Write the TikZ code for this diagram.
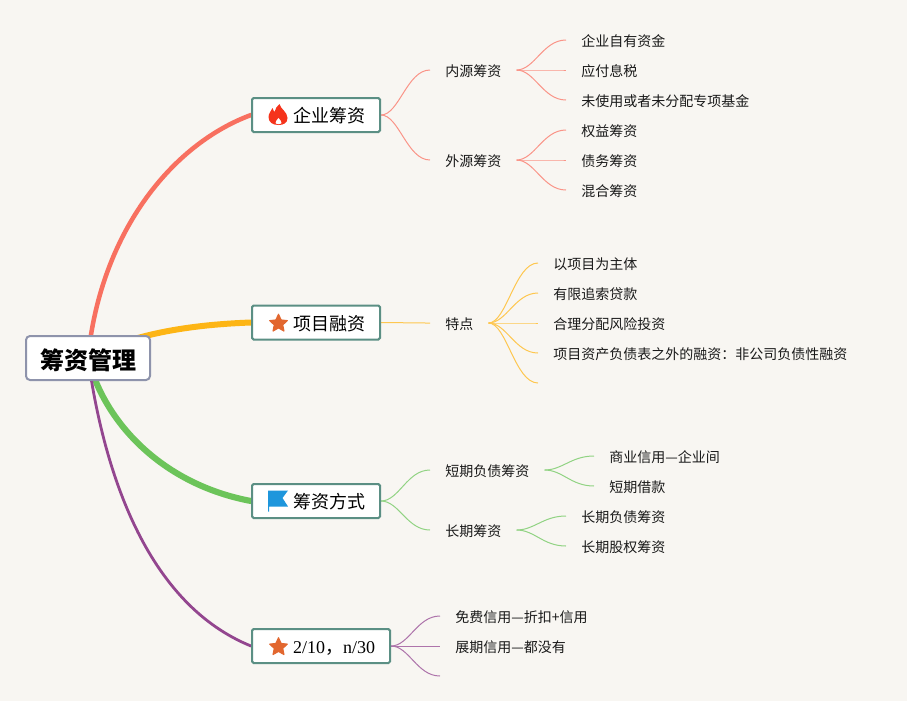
\documentclass[tikz,border=0pt]{standalone}
\usepackage{fontspec}
\setmainfont{Noto Sans CJK SC}
\newfontfamily\latinserif{Liberation Serif}
\usetikzlibrary{backgrounds,shapes.geometric,calc}
\definecolor{bgc}{HTML}{F8F6F2}
\definecolor{redb}{HTML}{F87060}
\definecolor{yelb}{HTML}{FDB515}
\definecolor{grnb}{HTML}{6CC45A}
\definecolor{purb}{HTML}{93468F}
\definecolor{teal1}{HTML}{5B8F84}
\definecolor{rootb}{HTML}{8E93AB}
\definecolor{staro}{HTML}{E2672F}
\definecolor{flagb}{HTML}{1E96DC}
\definecolor{flamer}{HTML}{F5331B}
\tikzset{
  x=0.75pt,y=-0.75pt,
  rootn/.style={draw=rootb,line width=1.5pt,fill=white,rounded corners=3pt,minimum width=93pt,minimum height=33pt,inner sep=0pt,text height=16.7pt,text depth=0pt,font=\fontsize{18pt}{20pt}\selectfont\bfseries},
  topicn/.style={draw=teal1,line width=1.5pt,fill=white,rounded corners=1.2pt,minimum height=25.5pt,inner ysep=0pt,inner xsep=11.25pt,text height=11.8pt,text depth=0pt,anchor=west,font=\fontsize{13.5pt}{16pt}\selectfont},
  subn/.style={anchor=west,inner xsep=11.25pt,inner ysep=0pt,text height=11.5pt,text depth=1.5pt,font=\fontsize{10.5pt}{13pt}\selectfont,text=black!90},
  branch/.style={line width=#1,line cap=round},
  thin1/.style={line width=0.75pt,draw=#1!75!white},
  icons/.style={star,star points=5,star point ratio=2.1,fill=staro,draw=staro,line width=0.8pt,line join=round,inner sep=0pt,minimum size=14pt},
}
\newcommand{\curvelink}[3]{\draw[thin1=#1] (#2) .. controls ($(#2)+(18,0)$) and ($(#3)+(-23,0)$) .. (#3);}
\begin{document}
\begin{tikzpicture}
\useasboundingbox (0,0) rectangle (907,701);
% root
\node[rootn] (root) at (88,358) {筹资管理};
% topics
\node[topicn] (t1) at (251,115) {\hspace*{19.5pt}企业筹资};
\node[topicn] (t2) at (251,322.5) {\hspace*{19.5pt}项目融资};
\node[topicn] (t3) at (251,501) {\hspace*{19.5pt}筹资方式};
\node[topicn] (t4) at (251,646) {\hspace*{19.5pt}{\latinserif 2/10}，{\latinserif n/30}};
% second level
\node[subn] (a1) at (430,70) {内源筹资};
\node[subn] (a2) at (430,160) {外源筹资};
\node[subn] (b1) at (430,323) {特点};
\node[subn] (c1) at (430,470) {短期负债筹资};
\node[subn] (c2) at (430,530) {长期筹资};
\node[subn] (d1) at (440,616) {免费信用—折扣+信用};
\node[subn] (d2) at (440,646) {展期信用—都没有};
\coordinate (d3) at (440,676);
% leaves
\node[subn] (a11) at (566,40) {企业自有资金};
\node[subn] (a12) at (566,70) {应付息税};
\node[subn] (a13) at (566,100) {未使用或者未分配专项基金};
\node[subn] (a21) at (566,130) {权益筹资};
\node[subn] (a22) at (566,160) {债务筹资};
\node[subn] (a23) at (566,190) {混合筹资};
\node[subn] (b11) at (538,263) {以项目为主体};
\node[subn] (b12) at (538,293) {有限追索贷款};
\node[subn] (b13) at (538,323) {合理分配风险投资};
\node[subn] (b14) at (538,353) {项目资产负债表之外的融资：非公司负债性融资};
\coordinate (b15) at (538,383);
\node[subn] (c11) at (594,456) {商业信用—企业间};
\node[subn] (c12) at (594,486) {短期借款};
\node[subn] (c21) at (566,516) {长期负债筹资};
\node[subn] (c22) at (566,546) {长期股权筹资};
% icons
\node[icons] (i2) at ($(t2.west)+(27.5,1)$) {};
\node[icons] (i4) at ($(t4.west)+(27.5,1)$) {};
\begin{scope}[shift={($(t1.west)+(27.5,0)$)}]
  \fill[flamer] (1,-11) .. controls (2,-6) and (9,-3) .. (9,3) .. controls (9,8) and (5,10) .. (0,10)
   .. controls (-6,10) and (-10,7) .. (-10,2) .. controls (-10,-2) and (-7,-4) .. (-6,-7)
   .. controls (-5,-5) and (-5,-4) .. (-4,-3) .. controls (-3,-6) and (-2,-9) .. (1,-11) -- cycle;
  \fill[white] (0,3) .. controls (1,5) and (3.5,6) .. (3,8) .. controls (2,9.5) and (-2,9.5) .. (-3,8) .. controls (-3.5,6) and (-1,5) .. (0,3) -- cycle;
\end{scope}
\begin{scope}[shift={($(t3.west)+(27.5,0)$)}]
  \fill[flagb] (-10.5,-10.5) -- (9.5,-10.5) -- (4,-3) -- (9.5,5.5) -- (-9.5,5.5) -- (-9.5,10.5) -- (-10.5,10.5) -- cycle;
\end{scope}
\begin{scope}[on background layer]
  \fill[bgc] (0,0) rectangle (907,701);
  \draw[branch=3.4pt,draw=redb] (root.center) .. controls (100,235) and (170,145) .. (t1.west);
  \draw[branch=4.5pt,draw=yelb] (root.center) .. controls (125,337) and (180,325) .. (t2.west);
  \draw[branch=4.6pt,draw=grnb] (root.center) .. controls (105,425) and (165,485) .. (t3.west);
  \draw[branch=2.1pt,draw=purb] (root.center) .. controls (105,480) and (150,605) .. (t4.west);
  \curvelink{redb}{t1.east}{a1.west}
  \curvelink{redb}{t1.east}{a2.west}
  \curvelink{redb}{a1.east}{a11.west}
  \curvelink{redb}{a1.east}{a12.west}
  \curvelink{redb}{a1.east}{a13.west}
  \curvelink{redb}{a2.east}{a21.west}
  \curvelink{redb}{a2.east}{a22.west}
  \curvelink{redb}{a2.east}{a23.west}
  \curvelink{yelb}{t2.east}{b1.west}
  \curvelink{yelb}{b1.east}{b11.west}
  \curvelink{yelb}{b1.east}{b12.west}
  \curvelink{yelb}{b1.east}{b13.west}
  \curvelink{yelb}{b1.east}{b14.west}
  \curvelink{yelb}{b1.east}{b15}
  \curvelink{grnb}{t3.east}{c1.west}
  \curvelink{grnb}{t3.east}{c2.west}
  \curvelink{grnb}{c1.east}{c11.west}
  \curvelink{grnb}{c1.east}{c12.west}
  \curvelink{grnb}{c2.east}{c21.west}
  \curvelink{grnb}{c2.east}{c22.west}
  \curvelink{purb}{t4.east}{d1.west}
  \curvelink{purb}{t4.east}{d2.west}
  \curvelink{purb}{t4.east}{d3}
\end{scope}
\end{tikzpicture}
\end{document}
